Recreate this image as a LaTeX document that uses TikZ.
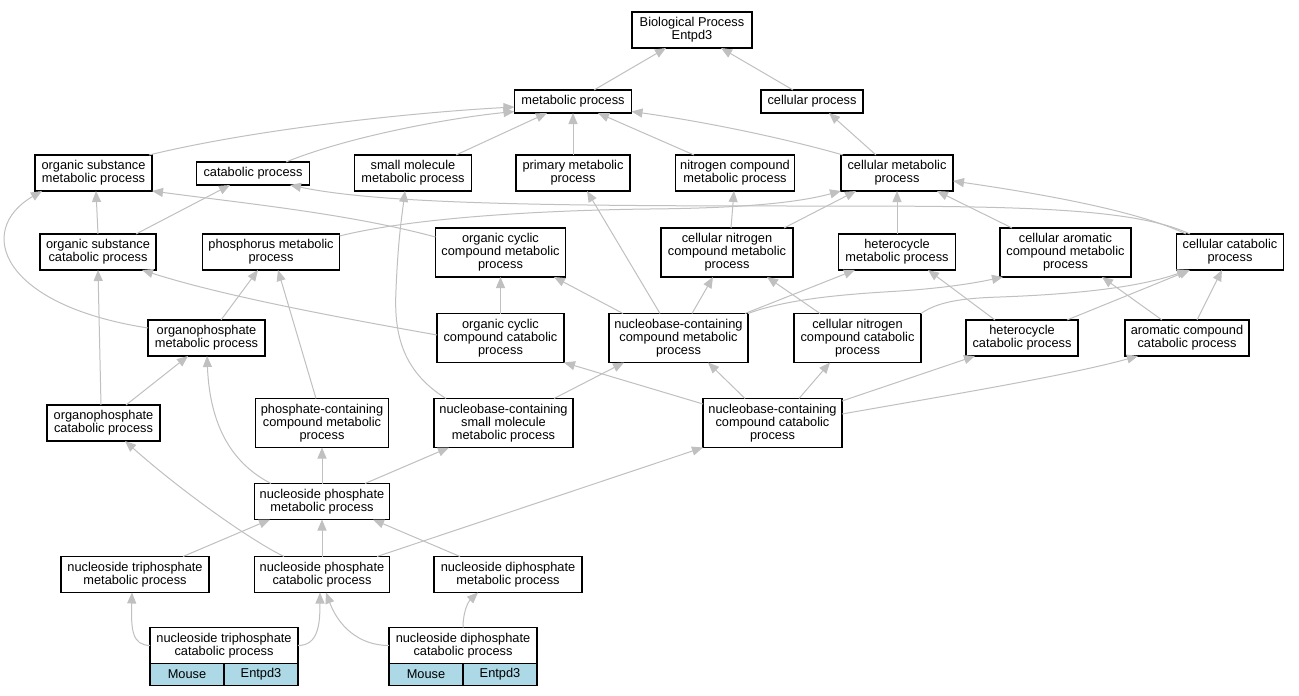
\documentclass[tikz,border=0pt]{standalone}
\usepackage{fontspec}
\setmainfont{Liberation Sans}
\usetikzlibrary{arrows.meta}
\definecolor{edgegray}{RGB}{192,192,192}
\definecolor{cellblue}{RGB}{173,216,230}
\begin{document}
\begin{tikzpicture}[x=1pt,y=-1pt,
  gbox/.style={draw=black, line width=1.2pt, fill=white, align=center, inner sep=0pt, outer sep=0pt, font=\fontsize{12.8}{13}\selectfont},
  cellbox/.style={gbox, fill=cellblue, minimum width=74, minimum height=22},
  conn/.style={draw=edgegray, line width=1pt, -{Triangle[length=11pt,width=9pt]}}]
\fill[white] (0,0) rectangle (1299,696);
\useasboundingbox (0,0) rectangle (1299,696);
% nodes
\node[gbox, minimum width=120, minimum height=36] (bp) at (692,30) {Biological Process\\Entpd3};
\node[gbox, minimum width=117, minimum height=23] (met) at (573,101.5) {metabolic process};
\node[gbox, minimum width=102, minimum height=23] (cellp) at (812,101.5) {cellular process};
\node[gbox, minimum width=117, minimum height=36] (osmp) at (93.5,173) {organic substance\\metabolic process};
\node[gbox, minimum width=113, minimum height=23] (catp) at (253,173.5) {catabolic process};
\node[gbox, minimum width=117, minimum height=36] (smmp) at (413,173) {small molecule\\metabolic process};
\node[gbox, minimum width=114, minimum height=36] (pmp) at (573,173) {primary metabolic\\process};
\node[gbox, minimum width=119, minimum height=36] (ncmp) at (735,173) {nitrogen compound\\metabolic process};
\node[gbox, minimum width=112, minimum height=36] (cmp) at (897,173) {cellular metabolic\\process};
\node[gbox, minimum width=116, minimum height=36] (oscp) at (98,252) {organic substance\\catabolic process};
\node[gbox, minimum width=137, minimum height=36] (phmp) at (271,252) {phosphorus metabolic\\process};
\node[gbox, minimum width=130, minimum height=49] (occmp) at (500.5,252.5) {organic cyclic\\compound metabolic\\process};
\node[gbox, minimum width=132, minimum height=49] (cncmp) at (727,252.5) {cellular nitrogen\\compound metabolic\\process};
\node[gbox, minimum width=117, minimum height=36] (hmp) at (897,252) {heterocycle\\metabolic process};
\node[gbox, minimum width=131, minimum height=49] (camp) at (1065.5,252.5) {cellular aromatic\\compound metabolic\\process};
\node[gbox, minimum width=107, minimum height=36] (ccp) at (1230,252) {cellular catabolic\\process};
\node[gbox, minimum width=117, minimum height=36] (opmp) at (206.5,338) {organophosphate\\metabolic process};
\node[gbox, minimum width=127, minimum height=49] (occp) at (500.5,338) {organic cyclic\\compound catabolic\\process};
\node[gbox, minimum width=139, minimum height=49] (ncmpx) at (678.5,338) {nucleobase-containing\\compound metabolic\\process};
\node[gbox, minimum width=127, minimum height=49] (cnccp) at (857.5,338) {cellular nitrogen\\compound catabolic\\process};
\node[gbox, minimum width=112, minimum height=36] (hcp) at (1022,338) {heterocycle\\catabolic process};
\node[gbox, minimum width=124, minimum height=36] (acp) at (1187,338) {aromatic compound\\catabolic process};
\node[gbox, minimum width=113, minimum height=36] (opcp) at (103.5,423) {organophosphate\\catabolic process};
\node[gbox, minimum width=133, minimum height=49] (pcmp) at (322,423) {phosphate-containing\\compound metabolic\\process};
\node[gbox, minimum width=139, minimum height=49] (nsmmp) at (503.5,423) {nucleobase-containing\\small molecule\\metabolic process};
\node[gbox, minimum width=139, minimum height=49] (nccp) at (772.5,423) {nucleobase-containing\\compound catabolic\\process};
\node[gbox, minimum width=135, minimum height=36] (npmp) at (322,501.5) {nucleoside phosphate\\metabolic process};
\node[gbox, minimum width=148, minimum height=36] (ntmp) at (135,574.5) {nucleoside triphosphate\\metabolic process};
\node[gbox, minimum width=135, minimum height=36] (npcp) at (322,574.5) {nucleoside phosphate\\catabolic process};
\node[gbox, minimum width=148, minimum height=36] (ndmp) at (508,574.5) {nucleoside diphosphate\\metabolic process};
\node[gbox, minimum width=148, minimum height=36] (ntcp) at (224,645.5) {nucleoside triphosphate\\catabolic process};
\node[cellbox] (ntcpm) at (187,674.5) {Mouse};
\node[cellbox] (ntcpe) at (261,674.5) {Entpd3};
\node[gbox, minimum width=148, minimum height=36] (ndcp) at (463,645.5) {nucleoside diphosphate\\catabolic process};
\node[cellbox] (ndcpm) at (426,674.5) {Mouse};
\node[cellbox] (ndcpe) at (500,674.5) {Entpd3};
% edges
\draw[conn] ([xshift=21pt]met.north) -- ([xshift=-26pt]bp.south);
\draw[conn] ([xshift=-19pt]cellp.north) -- ([xshift=29pt]bp.south);
\draw[conn] ([xshift=55.5pt]osmp.north) .. controls (260,128) and (420,112) .. ([yshift=-5.5pt]met.west);
\draw[conn] ([xshift=33pt]catp.north) .. controls (350,136) and (450,118) .. ([yshift=-10pt]met.west);
\draw[conn] ([xshift=43pt]smmp.north) -- ([xshift=-26pt]met.south);
\draw[conn] (pmp.north) -- (met.south);
\draw[conn] ([xshift=-41pt]ncmp.north) -- ([xshift=25pt]met.south);
\draw[conn] ([xshift=2pt]cmp.north west) .. controls (780,137) and (700,121) .. ([yshift=1.5pt]met.south east);
\draw[conn] ([xshift=-21pt]cmp.north) -- ([xshift=17pt]cellp.south);
\draw[conn] (oscp.north) -- ([xshift=2.5pt]osmp.south);
\draw[conn] ([xshift=38pt]oscp.north) -- ([xshift=-23pt]catp.south);
\draw[conn] ([yshift=10pt]opmp.west) .. controls (0,305) and (-25,230) .. ([xshift=7pt]osmp.south west);
\draw[conn] ([yshift=-9pt]occmp.north west) .. controls (350,214) and (250,204) .. (osmp.south east);
\draw[conn] ([xshift=13.5pt]ccp.north west) .. controls (1130,206) and (1000,206) .. (800,206) .. controls (550,206) and (380,204) .. ([xshift=37pt]catp.south);
\draw[conn] ([yshift=-2pt]phmp.north east) .. controls (420,216) and (560,210) .. (650,209) .. controls (750,208) and (800,202) .. (cmp.south west);
\draw[conn] ([xshift=12pt]nsmmp.north west) .. controls (400,370) and (394,330) .. (396,290) .. controls (398,240) and (402,215) .. ([xshift=-8pt]smmp.south);
\draw[conn] ([xshift=-18.5pt]ncmpx.north) -- ([xshift=14pt]pmp.south);
\draw[conn] ([xshift=4pt]cncmp.north) -- ([xshift=-1pt]ncmp.south);
\draw[conn] ([xshift=-9pt]cncmp.north east) -- ([xshift=-41pt]cmp.south);
\draw[conn] (hmp.north) -- (cmp.south);
\draw[conn] ([xshift=12pt]camp.north west) -- ([xshift=40pt]cmp.south);
\draw[conn] ([xshift=9.5pt]ccp.north west) .. controls (1140,212) and (1050,195) .. ([yshift=-8pt]cmp.east);
\draw[conn] ([xshift=14.5pt]opmp.north) -- ([xshift=-13pt]phmp.south);
\draw[conn] ([yshift=3pt]occp.west) .. controls (330,316) and (220,295) .. ([xshift=-14pt]oscp.south east);
\draw[conn] (occp.north) -- (occmp.south);
\draw[conn] ([xshift=14pt]ncmpx.north west) -- ([xshift=-11.5pt]occmp.south east);
\draw[conn] ([xshift=13.5pt]ncmpx.north) -- ([xshift=-14pt]cncmp.south);
\draw[conn] ([xshift=-3pt]ncmpx.north east) -- ([xshift=16.5pt]hmp.south west);
\draw[conn] (ncmpx.north east) .. controls (790,298) and (850,294) .. (900,291) .. controls (945,288) and (975,283) .. ([xshift=3pt]camp.south west);
\draw[conn] ([xshift=26pt]cnccp.north west) -- ([xshift=-26pt]cncmp.south east);
\draw[conn] (cnccp.north east) .. controls (940,300) and (970,298) .. (1000,297) .. controls (1080,294) and (1140,287) .. ([xshift=11.5pt]ccp.south west);
\draw[conn] ([xshift=-27pt]hcp.north) -- ([xshift=31pt]hmp.south);
\draw[conn] ([xshift=-11pt]hcp.north east) -- ([xshift=13.5pt]ccp.south west);
\draw[conn] ([xshift=-25pt]acp.north) -- ([xshift=36.5pt]camp.south);
\draw[conn] ([xshift=10pt]acp.north) -- ([xshift=-8pt]ccp.south);
\draw[conn] ([xshift=22.5pt]opcp.north) -- ([xshift=-18.5pt]opmp.south);
\draw[conn] ([xshift=-2.5pt]opcp.north) -- (oscp.south);
\draw[conn] ([xshift=-6pt]pcmp.north) -- ([xshift=7pt]phmp.south);
\draw[conn] ([xshift=50.5pt]nsmmp.north) -- ([xshift=-54.5pt]ncmpx.south);
\draw[conn] ([yshift=-5.5pt]nccp.north west) -- (occp.south east);
\draw[conn] ([xshift=-27.5pt]nccp.north) -- ([xshift=29.5pt]ncmpx.south);
\draw[conn] ([xshift=26.5pt]nccp.north) -- ([xshift=-27.5pt]cnccp.south);
\draw[conn] ([yshift=-2.5pt]nccp.north east) -- ([xshift=9pt]hcp.south west);
\draw[conn] ([yshift=9pt]nccp.east) .. controls (950,395) and (1070,375) .. ([xshift=13pt]acp.south west);
\draw[conn] ([xshift=-51pt]npmp.north) .. controls (235,465) and (210,430) .. ([xshift=0.5pt]opmp.south);
\draw[conn] (npmp.north) -- (pcmp.south);
\draw[conn] ([xshift=43pt]npmp.north) -- ([xshift=15pt]nsmmp.south west);
\draw[conn] ([xshift=48pt]ntmp.north) -- ([xshift=-52pt]npmp.south);
\draw[conn] (npcp.north) -- (npmp.south);
\draw[conn] ([xshift=-48pt]ndmp.north) -- ([xshift=51pt]npmp.south);
\draw[conn] ([xshift=-38pt]npcp.north) .. controls (250,540) and (180,490) .. ([xshift=21.5pt]opcp.south);
\draw[conn] ([xshift=55pt]npcp.north) -- (nccp.south west);
\draw[conn] (ntcp.west) .. controls (132,645) and (131,630) .. ([xshift=-3pt]ntmp.south);
\draw[conn] (ntcp.east) .. controls (318,645.5) and (320,625) .. ([xshift=-2pt]npcp.south);
\draw[conn] (ndcp.west) .. controls (358,645.5) and (338,625) .. ([xshift=4pt]npcp.south);
\draw[conn] (ndcp.north) .. controls (463,612) and (468,602) .. ([xshift=-30pt]ndmp.south);
\end{tikzpicture}
\end{document}
